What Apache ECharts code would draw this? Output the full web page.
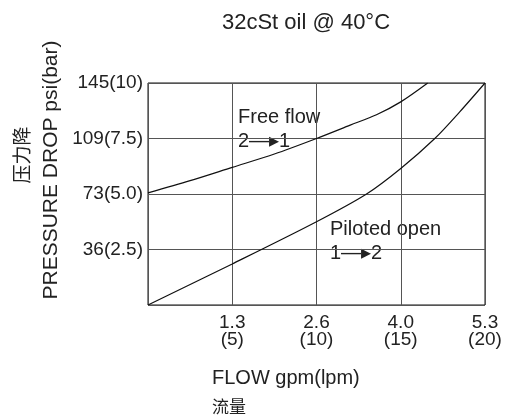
<!DOCTYPE html>
<html>
<head>
<meta charset="utf-8">
<script src="https://cdn.jsdelivr.net/npm/echarts@6/dist/echarts.min.js"></script>
<style>
html, body { margin: 0; padding: 0; background: #fff; }
#main { width: 510px; height: 419px; }
</style>
</head>
<body>
<div id="main"></div>
<script>
var myChart = echarts.init(document.getElementById('main'));

// tick labels: psi(bar) on y, gpm(lpm) on x
var yTicks = [0, 2.5, 5, 7.5, 10];
var yTickLabels = ['', '36(2.5)', '73(5.0)', '109(7.5)', '145(10)'];
var xTicks = [0, 5, 10, 15, 20];
var xTickLabels = ['', '1.3\n(5)', '2.6\n(10)', '4.0\n(15)', '5.3\n(20)'];

// curves, flow in lpm / pressure drop in bar
var freeFlowLpm = [0, 2.5, 5, 7.5, 10, 12, 13.56, 15, 16.6];
var freeFlowBar = [5.05, 5.6, 6.2, 6.8, 7.5, 8.1, 8.57, 9.15, 10];
var pilotedLpm = [0, 5, 10, 12.97, 15, 17.02, 18.5, 20];
var pilotedBar = [0, 1.85, 3.75, 5.0, 6.15, 7.5, 8.7, 10];

function pairs(xs, ys) {
    return xs.map(function (x, i) { return [x, ys[i]]; });
}

var font = '"Liberation Sans", Arial, sans-serif';
var cjk = '"Noto Sans CJK SC", sans-serif';
var txt = '#222';

var option = {
    backgroundColor: '#fff',
    animation: false,
    title: {
        text: '32cSt oil @ 40°C',
        left: 301,
        top: 7,
        textAlign: 'center',
        textStyle: { fontFamily: font, fontSize: 22, fontWeight: 'normal', color: txt }
    },
    grid: {
        left: 148, right: 25, top: 83, bottom: 114,
        show: true, borderColor: '#111', borderWidth: 1
    },
    xAxis: {
        type: 'value',
        min: 0, max: 20, interval: 5,
        axisLine: { show: false },
        axisTick: { show: false },
        splitLine: { show: true, lineStyle: { color: '#555', width: 1 } },
        axisLabel: {
            fontFamily: font, fontSize: 19, color: txt, lineHeight: 17, margin: 9,
            formatter: function (v) { return xTickLabels[xTicks.indexOf(v)] || ''; }
        }
    },
    yAxis: {
        type: 'value',
        min: 0, max: 10, interval: 2.5,
        axisLine: { show: false },
        axisTick: { show: false },
        splitLine: { show: true, lineStyle: { color: '#555', width: 1 } },
        axisLabel: {
            fontFamily: font, fontSize: 19, color: txt, margin: 5,
            formatter: function (v) { return yTickLabels[yTicks.indexOf(v)] || ''; }
        }
    },
    graphic: [
        { type: 'text', x: 51, y: 170, rotation: Math.PI / 2,
          style: { text: 'PRESSURE DROP psi(bar)', font: '21px ' + font, fill: txt, align: 'center', verticalAlign: 'middle' } },
        { type: 'text', x: 22, y: 155, rotation: Math.PI / 2,
          style: { text: '压力降', font: '19px ' + cjk, fill: txt, align: 'center', verticalAlign: 'middle' } },
        { type: 'text', x: 212, y: 378,
          style: { text: 'FLOW gpm(lpm)', font: '20px ' + font, fill: txt, align: 'left', verticalAlign: 'middle' } },
        { type: 'text', x: 212, y: 407,
          style: { text: '流量', font: '17px ' + cjk, fill: txt, align: 'left', verticalAlign: 'middle' } },
        { type: 'text', x: 238, y: 117,
          style: { text: 'Free flow', font: '20px ' + font, fill: txt, align: 'left', verticalAlign: 'middle' } },
        { type: 'text', x: 238, y: 141,
          style: { text: '2\u2014\u25B81', font: '20px ' + font, fill: txt, align: 'left', verticalAlign: 'middle' } },
        { type: 'text', x: 330, y: 229,
          style: { text: 'Piloted open', font: '20px ' + font, fill: txt, align: 'left', verticalAlign: 'middle' } },
        { type: 'text', x: 330, y: 253,
          style: { text: '1\u2014\u25B82', font: '20px ' + font, fill: txt, align: 'left', verticalAlign: 'middle' } }
    ],
    series: [
        {
            name: 'Free flow',
            type: 'line',
            data: pairs(freeFlowLpm, freeFlowBar),
            smooth: 0.3,
            showSymbol: false,
            lineStyle: { color: '#111', width: 1.2 }
        },
        {
            name: 'Piloted open',
            type: 'line',
            data: pairs(pilotedLpm, pilotedBar),
            smooth: 0.3,
            showSymbol: false,
            lineStyle: { color: '#111', width: 1.2 }
        }
    ]
};

myChart.setOption(option);
</script>
</body>
</html>
